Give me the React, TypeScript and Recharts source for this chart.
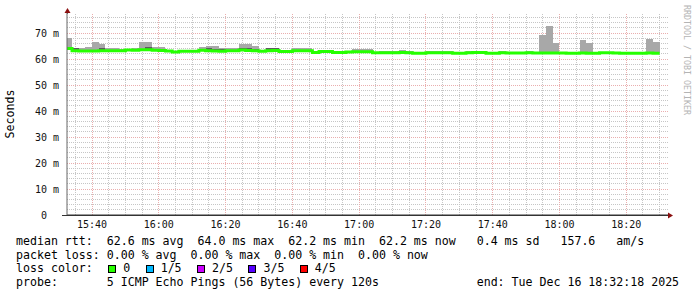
import React from 'react';
import { ComposedChart, Area, Line, XAxis, YAxis, ReferenceLine } from 'recharts';

// time in minutes of the day, one sample every 2 minutes starting 15:32
const T0 = 932;
const STEP_MIN = 2;
const X_DOMAIN: [number, number] = [932.5, 1112.5];
const Y_DOMAIN: [number, number] = [0, 77.7];
const TIME_TICKS = [940, 960, 980, 1000, 1020, 1040, 1060, 1080, 1100];
const X_MINOR = [935, 945, 950, 955, 965, 970, 975, 985, 990, 995, 1005, 1010, 1015, 1025, 1030, 1035, 1045, 1050, 1055, 1065, 1070, 1075, 1085, 1090, 1095, 1105, 1110];

const Y_TICKS = [0, 10, 20, 30, 40, 50, 60, 70];
const Y_MAJOR = [10, 20, 30, 40, 50, 60, 70];
const Y_MINOR = [2, 4, 6, 8, 12, 14, 16, 18, 22, 24, 26, 28, 32, 34, 36, 38, 42, 44, 46, 48, 52, 54, 56, 58, 62, 64, 66, 68, 72, 74, 76];

// median rtt (ms)
const MEDIAN = [
  64.0, 63.2, 63.1, 63.1, 63.1, 63.2, 63.2, 63.2, 63.2, 63.5,
  63.4, 63.6, 63.6, 63.4, 63.3, 63.1, 62.7, 63.0, 63.0, 63.0,
  63.4, 63.2, 63.1, 63.0, 63.2, 63.2, 63.5, 63.3, 63.2, 63.0,
  63.2, 63.3, 62.9, 62.9, 63.2, 63.2, 63.2, 62.5, 62.9, 62.9,
  62.5, 62.5, 62.7, 62.8, 62.8, 62.8, 62.4, 62.4, 62.4, 62.4,
  62.5, 62.4, 62.2, 62.2, 62.4, 62.4, 62.4, 62.4, 62.2, 62.2,
  62.4, 62.5, 62.5, 62.2, 62.2, 62.4, 62.3, 62.3, 62.3, 62.4,
  62.3, 62.3, 62.3, 62.3, 62.3, 62.2, 62.2, 62.3, 62.2, 62.2,
  62.4, 62.4, 62.3, 62.2, 62.2, 62.2, 62.2, 62.3, 62.2,
];

// top of the smoke (slowest ping of each round)
const SMOKE_TOP = [
  68.2, 64.3, 64.1, 64.8, 66.7, 65.6, 64.1, 64.3, 63.8, 63.9,
  64.3, 66.7, 66.7, 64.6, 64.6, 63.6, 63.2, 63.4, 63.4, 63.4,
  64.5, 65.1, 65.1, 64.1, 64.3, 64.3, 65.8, 65.8, 65.1, 63.4,
  64.1, 64.2, 63.2, 63.2, 64.1, 64.3, 64.1, 62.9, 63.2, 63.2,
  62.8, 62.8, 63.0, 63.7, 63.7, 63.7, 62.7, 63.0, 63.0, 63.0,
  63.5, 63.0, 62.5, 62.5, 62.9, 62.9, 62.9, 62.9, 62.5, 62.5,
  63.0, 63.1, 62.8, 62.5, 62.5, 63.1, 62.6, 62.6, 62.6, 63.1,
  62.6, 69.4, 72.7, 66.2, 62.6, 62.5, 62.5, 67.3, 66.2, 62.5,
  62.7, 62.7, 62.6, 62.5, 62.5, 62.5, 62.5, 67.7, 66.7,
];

// darker smoke just above the median where several pings cluster
const DARK_TOP: (number | null)[] = [
  null, 64.1, null, null, null, 64.3, null, null, null, null,
  null, null, 64.7, null, null, null, null, null, null, null,
  null, 64.1, 63.9, 63.8, null, null, 64.4, 64.2, 64.0, null,
  64.1, 64.2, null, null, null, null, null, null, null, null,
  null, null, null, null, null, null, null, null, null, null,
  null, null, null, null, null, null, null, null, null, null,
  null, null, null, null, null, null, null, null, null, null,
  null, null, null, null, null, null, null, null, null, null,
  null, null, null, null, null, null, null, null, null,
];

const rows = MEDIAN.map((m, i) => ({
  t: T0 + i * STEP_MIN,
  med: m,
  top: SMOKE_TOP[i],
  dark: DARK_TOP[i] ?? m,
}));
rows.push({ ...rows[rows.length - 1], t: T0 + MEDIAN.length * STEP_MIN });

const MONO = '"DejaVu Sans Mono", monospace';
const GREEN = '#26ff00';
const MINOR_GRID = '#c6c6c6';
const MAJOR_GRID = '#eaaeae';
const LOSS_COLORS = [
  { label: '0', color: '#26ff00' },
  { label: '1/5', color: '#00b8ff' },
  { label: '2/5', color: '#cc00ff' },
  { label: '3/5', color: '#5500ff' },
  { label: '4/5', color: '#ff0000' },
];

const CHART_W = 697;
const CHART_H = 235;

const hhmm = (v: number) => {
  const h = Math.floor(v / 60);
  const m = Math.round(v - h * 60);
  return `${h}:${String(m).padStart(2, '0')}`;
};

const YTick = ({ x, y, payload }: any) => (
  <text x={payload.value === 0 ? x - 12 : x} y={y + 3.6} textAnchor="end" fontFamily={MONO} fontSize={10} fill="#111">
    {payload.value === 0 ? '0' : `${payload.value} m`}
  </text>
);

const XTick = ({ x, y, payload }: any) => (
  <text x={x} y={y + 4.6} textAnchor="middle" fontFamily={MONO} fontSize={10} fill="#111">
    {hhmm(payload.value)}
  </text>
);

const Box = ({ color }: { color: string }) => (
  <span
    style={{
      display: 'inline-block',
      width: 8,
      height: 8,
      boxSizing: 'border-box',
      border: '1px solid #000',
      background: color,
      marginLeft: 1.5,
      verticalAlign: -1,
    }}
  />
);

// grid lives in its own chart underneath, so it stays behind the smoke
function GridLayer() {
  return (
    <ComposedChart width={CHART_W} height={CHART_H} data={rows} margin={{ top: 13, right: 29, bottom: 0, left: 0 }}>
      <XAxis dataKey="t" type="number" domain={X_DOMAIN} allowDataOverflow height={20} tick={false} axisLine={false} tickLine={false} />
      <YAxis type="number" domain={Y_DOMAIN} allowDataOverflow width={67} tick={false} axisLine={false} tickLine={false} />
      {Y_MINOR.map((v) => (
        <ReferenceLine key={`ym${v}`} y={v} stroke={MINOR_GRID} strokeDasharray="1 1" shapeRendering="crispEdges" />
      ))}
      {X_MINOR.map((v) => (
        <ReferenceLine key={`xm${v}`} x={v} stroke={MINOR_GRID} strokeDasharray="1 1" shapeRendering="crispEdges" />
      ))}
      {Y_MAJOR.map((v) => (
        <ReferenceLine key={`yM${v}`} y={v} stroke={MAJOR_GRID} strokeDasharray="1 1" shapeRendering="crispEdges" />
      ))}
      {TIME_TICKS.map((v) => (
        <ReferenceLine key={`xM${v}`} x={v} stroke={MAJOR_GRID} strokeDasharray="1 1" shapeRendering="crispEdges" />
      ))}
    </ComposedChart>
  );
}

export default function App() {
  return (
    <div style={{ position: 'absolute', left: 0, top: 0, width: 697, height: 297, background: '#fff', overflow: 'hidden' }}>
      <div style={{ position: 'absolute', left: 0, top: 0 }}>
        <GridLayer />
      </div>
      <div style={{ position: 'absolute', left: 0, top: 0 }}>
        <ComposedChart width={CHART_W} height={CHART_H} data={rows} margin={{ top: 13, right: 29, bottom: 0, left: 0 }}>
          <XAxis
            dataKey="t"
            type="number"
            domain={X_DOMAIN}
            ticks={TIME_TICKS}
            allowDataOverflow
            height={20}
            tickLine={false}
            axisLine={{ stroke: '#333' }}
            tick={<XTick />}
          />
          <YAxis
            type="number"
            domain={Y_DOMAIN}
            ticks={Y_TICKS}
            allowDataOverflow
            width={67}
            tickLine={false}
            axisLine={{ stroke: '#666' }}
            tick={<YTick />}
            label={{
              value: 'Seconds',
              content: ({ viewBox }: any) => (
                <text
                  x={10}
                  y={viewBox.y + viewBox.height / 2}
                  transform={`rotate(-90 10 ${viewBox.y + viewBox.height / 2})`}
                  textAnchor="middle"
                  dominantBaseline="central"
                  fontFamily={MONO}
                  fontSize={11.6}
                  fill="#000"
                >
                  Seconds
                </text>
              ),
            }}
          />
          <Area
            type="stepAfter"
            dataKey={(d: any) => [d.med, d.top]}
            fill="#a8a8a8"
            fillOpacity={1}
            stroke="none"
            shapeRendering="crispEdges"
            isAnimationActive={false}
            dot={false}
            activeDot={false}
          />
          <Area
            type="stepAfter"
            dataKey={(d: any) => [d.med, d.dark]}
            fill="#5c5c5c"
            fillOpacity={1}
            stroke="none"
            shapeRendering="crispEdges"
            isAnimationActive={false}
            dot={false}
            activeDot={false}
          />
          <Line
            type="stepAfter"
            dataKey="med"
            stroke={GREEN}
            strokeWidth={3}
            dot={false}
            activeDot={false}
            isAnimationActive={false}
          />
        </ComposedChart>
      </div>

      <svg width={697} height={297} style={{ position: 'absolute', left: 0, top: 0, pointerEvents: 'none' }}>
        <line x1={62} y1={215.5} x2={668} y2={215.5} stroke="#333" />
        <line x1={67.5} y1={9} x2={67.5} y2={14} stroke="#666" />
        <polygon points="64.5,13 70.5,13 67.5,8" fill="#8b1010" />
        <polygon points="668,212.5 668,218.5 673,215.5" fill="#8b1010" />
        <text
          transform="translate(686.5 5) rotate(90)"
          fontFamily={MONO}
          fontSize={8.3}
          fill="#b4b4b4"
          dominantBaseline="central"
        >
          RRDTOOL / TOBI OETIKER
        </text>
      </svg>

      <div
        style={{
          position: 'absolute',
          left: 16,
          top: 235,
          fontFamily: MONO,
          fontSize: 11.6,
          lineHeight: '13.7px',
          whiteSpace: 'pre',
          color: '#000',
        }}
      >
        <div>median rtt:  62.6 ms avg  64.0 ms max  62.2 ms min  62.2 ms now   0.4 ms sd   157.6   am/s</div>
        <div>packet loss: 0.00 % avg  0.00 % max  0.00 % min  0.00 % now</div>
        <div>
          {'loss color:  '}
          {LOSS_COLORS.map((c, i) => (
            <React.Fragment key={c.label}>
              <Box color={c.color} />
              {` ${c.label}${i < LOSS_COLORS.length - 1 ? '  ' : ''}`}
            </React.Fragment>
          ))}
        </div>
        <div>probe:       5 ICMP Echo Pings (56 Bytes) every 120s              end: Tue Dec 16 18:32:18 2025</div>
      </div>
    </div>
  );
}
